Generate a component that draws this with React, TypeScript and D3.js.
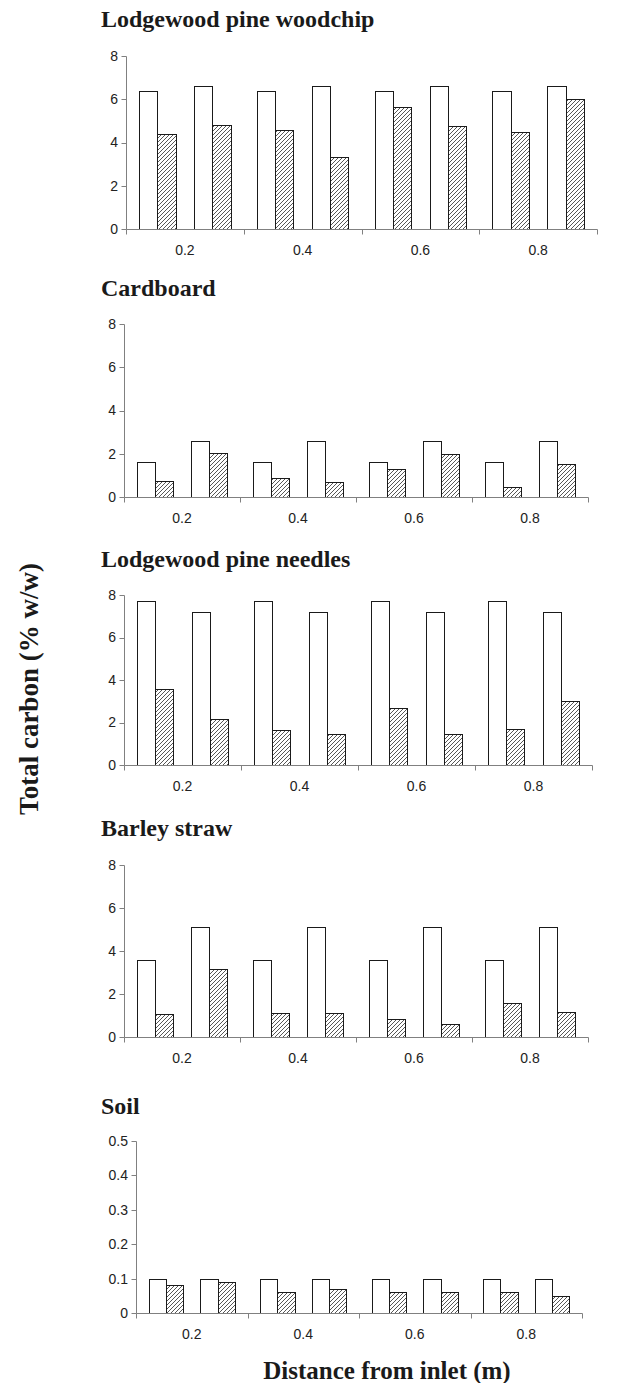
import React from "react";
import * as d3 from "d3";

// ---- data ----
const categories = ["0.2", "0.4", "0.6", "0.8"];
// two sampling points per distance, each with an initial (open) and a final (hatched) bar
const slots = ["a-initial", "a-final", "gap", "b-initial", "b-final"];

const woodchipInitial = [6.4, 6.6, 6.4, 6.6, 6.4, 6.6, 6.4, 6.6];
const woodchipFinal = [4.4, 4.82, 4.6, 3.35, 5.62, 4.76, 4.48, 6.02];

const cardboardInitial = [1.6, 2.6, 1.6, 2.6, 1.6, 2.6, 1.6, 2.6];
const cardboardFinal = [0.74, 2.05, 0.9, 0.7, 1.3, 2.0, 0.47, 1.53];

const needlesInitial = [7.7, 7.2, 7.7, 7.2, 7.7, 7.2, 7.7, 7.2];
const needlesFinal = [3.58, 2.15, 1.65, 1.48, 2.67, 1.46, 1.71, 2.99];

const barleyInitial = [3.6, 5.1, 3.6, 5.1, 3.6, 5.1, 3.6, 5.1];
const barleyFinal = [1.08, 3.18, 1.12, 1.12, 0.86, 0.62, 1.6, 1.17];

const soilInitial = [0.1, 0.1, 0.1, 0.1, 0.1, 0.1, 0.1, 0.1];
const soilFinal = [0.08, 0.09, 0.06, 0.07, 0.06, 0.06, 0.06, 0.05];

const yTicksMain = [0, 2, 4, 6, 8];
const yTicksSoil = [0, 0.1, 0.2, 0.3, 0.4, 0.5];

const titles = [
  "Lodgewood pine woodchip",
  "Cardboard",
  "Lodgewood pine needles",
  "Barley straw",
  "Soil",
];
const yAxisTitle = "Total carbon (% w/w)";
const xAxisTitle = "Distance from inlet (m)";

// ---- layout ----
const W = 640;
const H = 1383;
const serif = "'Liberation Serif', 'Times New Roman', serif";
const sans = "'Liberation Sans', Arial, sans-serif";
const axisColor = "#808080";

const panels = [
  { title: titles[0], initial: woodchipInitial, final: woodchipFinal, ticks: yTicksMain, titleY: 27, top: 56, bottom: 229, left: 126, right: 597 },
  { title: titles[1], initial: cardboardInitial, final: cardboardFinal, ticks: yTicksMain, titleY: 296, top: 324, bottom: 497, left: 124, right: 588 },
  { title: titles[2], initial: needlesInitial, final: needlesFinal, ticks: yTicksMain, titleY: 567, top: 595, bottom: 765, left: 124, right: 592 },
  { title: titles[3], initial: barleyInitial, final: barleyFinal, ticks: yTicksMain, titleY: 836, top: 865, bottom: 1037, left: 124, right: 588 },
  { title: titles[4], initial: soilInitial, final: soilFinal, ticks: yTicksSoil, titleY: 1114, top: 1141, bottom: 1313, left: 136, right: 582 },
];

const crisp = (v: number) => Math.round(v) + 0.5;

function Panel({ p }: { p: (typeof panels)[number] }) {
  const x0 = d3.scaleBand<string>().domain(categories).range([p.left, p.right]).padding(0);
  const x1 = d3
    .scaleBand<string>()
    .domain(slots)
    .range([0, x0.bandwidth()])
    .paddingInner(0)
    .paddingOuter(0.725);
  const yMax = d3.max(p.ticks) as number;
  const y = d3.scaleLinear().domain([0, yMax]).range([p.bottom, p.top]);
  const fmt = (v: number) => (v === 0 ? "0" : d3.format("~g")(v));

  const bars: { x: number; w: number; v: number; kind: string }[] = [];
  p.initial.forEach((v, i) => {
    const cat = categories[Math.floor(i / 2)];
    const side = i % 2 === 0 ? "a" : "b";
    bars.push({ x: (x0(cat) as number) + (x1(`${side}-initial`) as number), w: x1.bandwidth(), v, kind: "initial" });
    bars.push({ x: (x0(cat) as number) + (x1(`${side}-final`) as number), w: x1.bandwidth(), v: p.final[i], kind: "final" });
  });

  const boundaries = [...categories.map((c) => x0(c) as number), p.right];
  const yb = crisp(p.bottom);

  return (
    <g>
      <text x={101} y={p.titleY} fontFamily={serif} fontWeight="bold" fontSize={24} fill="#1a1a1a">
        {p.title}
      </text>
      {bars.map((b, i) => {
        const xa = crisp(b.x);
        const xb = crisp(b.x + b.w);
        const yt = crisp(y(b.v));
        return (
          <rect
            key={i}
            x={xa}
            y={yt}
            width={xb - xa}
            height={yb - yt}
            fill={b.kind === "initial" ? "#ffffff" : "url(#hatch)"}
            stroke="#1a1a1a"
            strokeWidth={1}
          />
        );
      })}
      {/* y axis */}
      <line x1={crisp(p.left)} x2={crisp(p.left)} y1={crisp(p.top)} y2={yb} stroke={axisColor} />
      {p.ticks.map((t) => (
        <g key={t}>
          <line x1={crisp(p.left) - 5} x2={crisp(p.left)} y1={crisp(y(t))} y2={crisp(y(t))} stroke={axisColor} />
          <text x={p.left - 8} y={y(t)} dy="0.35em" textAnchor="end" fontFamily={sans} fontSize={14} fill="#222">
            {fmt(t)}
          </text>
        </g>
      ))}
      {/* x axis */}
      <line x1={crisp(p.left)} x2={crisp(p.right)} y1={yb} y2={yb} stroke={axisColor} />
      {boundaries.map((bx, i) => (
        <line key={i} x1={crisp(bx)} x2={crisp(bx)} y1={yb} y2={yb + 5} stroke={axisColor} />
      ))}
      {categories.map((c) => (
        <text
          key={c}
          x={(x0(c) as number) + x0.bandwidth() / 2}
          y={p.bottom + 26}
          textAnchor="middle"
          fontFamily={sans}
          fontSize={14}
          fill="#222"
        >
          {c}
        </text>
      ))}
    </g>
  );
}

export default function App() {
  return (
    <svg
      width={W}
      height={H}
      viewBox={`0 0 ${W} ${H}`}
      style={{ position: "absolute", left: 0, top: 0, background: "#fff" }}
    >
      <defs>
        <pattern id="hatch" patternUnits="userSpaceOnUse" width={4} height={4}>
          <rect width={4} height={4} fill="#fff" />
          <path d="M-1,1 L1,-1 M0,4 L4,0 M3,5 L5,3" stroke="#444" strokeWidth={0.9} />
        </pattern>
      </defs>
      <rect width={W} height={H} fill="#fff" />
      {panels.map((p, i) => (
        <Panel key={i} p={p} />
      ))}
      <text
        transform="translate(38,689) rotate(-90)"
        textAnchor="middle"
        fontFamily={serif}
        fontWeight="bold"
        fontSize={27}
        fill="#1a1a1a"
      >
        {yAxisTitle}
      </text>
      <text x={387} y={1379} textAnchor="middle" fontFamily={serif} fontWeight="bold" fontSize={25} fill="#1a1a1a">
        {xAxisTitle}
      </text>
    </svg>
  );
}
